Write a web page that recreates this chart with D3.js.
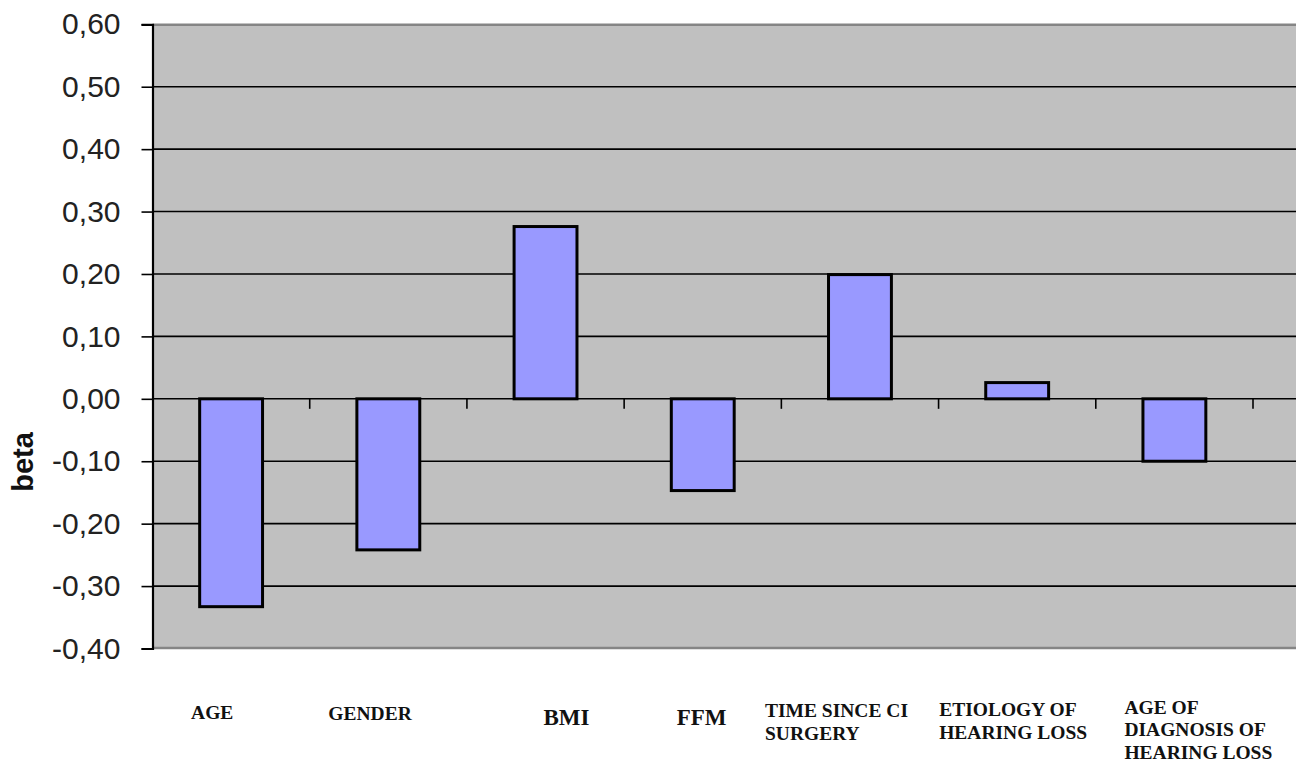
<!DOCTYPE html>
<html>
<head>
<meta charset="utf-8">
<script src="https://cdn.jsdelivr.net/npm/d3@7"></script>
<style>
  html, body { margin: 0; padding: 0; background: #ffffff; }
  svg { display: block; }
</style>
</head>
<body>
<svg id="chart" width="1296" height="763"></svg>
<script>
// Standardised regression coefficients (beta) per predictor
const categories = ["AGE", "GENDER", "BMI", "FFM", "TIME SINCE CI SURGERY",
  "ETIOLOGY OF HEARING LOSS", "AGE OF DIAGNOSIS OF HEARING LOSS"];
const betaValues = [-0.333, -0.242, 0.276, -0.147, 0.199, 0.026, -0.100];
const yTicks = [-0.40, -0.30, -0.20, -0.10, 0.00, 0.10, 0.20, 0.30, 0.40, 0.50, 0.60];
const categoryLines = [
  ["AGE"], ["GENDER"], ["BMI"], ["FFM"],
  ["TIME SINCE CI", "SURGERY"],
  ["ETIOLOGY OF", "HEARING LOSS"],
  ["AGE OF", "DIAGNOSIS OF", "HEARING LOSS"]
];

// Label placement under each band: horizontal shift from band centre, first baseline, font size
const labelLayout = [
  { dx: -40, y: 719, size: 19.5 },
  { dx: -60, y: 720, size: 19.5 },
  { dx: -2,  y: 725, size: 23 },
  { dx: -26, y: 725, size: 23 },
  { dx: -95, y: 717, size: 19.5 },
  { dx: -78, y: 716, size: 19.5 },
  { dx: -50, y: 713.5, size: 19.5 }
];
const lineStep = 22.6;

const W = 1296, H = 763;
const plot = { left: 152.5, right: 1253, top: 24.3, bottom: 648.5, edge: 1296 };

const svg = d3.select("#chart");

const x = d3.scaleBand()
  .domain(categories)
  .range([plot.left, plot.right])
  .paddingInner(0.6)
  .paddingOuter(0.3);

const y = d3.scaleLinear()
  .domain([-0.4, 0.6])
  .range([plot.bottom, plot.top]);

// Plot background
svg.append("rect")
  .attr("x", plot.left)
  .attr("y", plot.top)
  .attr("width", plot.edge - plot.left)
  .attr("height", plot.bottom - plot.top)
  .attr("fill", "#c0c0c0");

// Horizontal gridlines
svg.append("g")
  .selectAll("line")
  .data(yTicks.filter(v => v > -0.4 && v < 0.6))
  .join("line")
  .attr("x1", plot.left)
  .attr("x2", plot.edge)
  .attr("y1", d => y(d))
  .attr("y2", d => y(d))
  .attr("stroke", "#000")
  .attr("stroke-width", 1.6);

// Top and bottom frame of the plot area
svg.append("line")
  .attr("x1", plot.left).attr("x2", plot.edge)
  .attr("y1", plot.top + 0.5).attr("y2", plot.top + 0.5)
  .attr("stroke", "#858585").attr("stroke-width", 2.5);
svg.append("line")
  .attr("x1", plot.left).attr("x2", plot.edge)
  .attr("y1", plot.bottom - 0.5).attr("y2", plot.bottom - 0.5)
  .attr("stroke", "#858585").attr("stroke-width", 2.5);

// Category tick marks hanging from the zero line
const boundaries = d3.range(1, categories.length + 1)
  .map(i => plot.left + i * x.step());
svg.append("g")
  .selectAll("line")
  .data(boundaries)
  .join("line")
  .attr("x1", d => d).attr("x2", d => d)
  .attr("y1", y(0)).attr("y2", y(0) + 10)
  .attr("stroke", "#000")
  .attr("stroke-width", 1.6);

// Bars
svg.append("g")
  .selectAll("rect")
  .data(categories.map((c, i) => ({ c, v: betaValues[i] })))
  .join("rect")
  .attr("x", d => x(d.c))
  .attr("width", x.bandwidth())
  .attr("y", d => y(Math.max(0, d.v)))
  .attr("height", d => Math.abs(y(d.v) - y(0)))
  .attr("fill", "#9999ff")
  .attr("stroke", "#000")
  .attr("stroke-width", 3);

// Y axis
const yAxis = d3.axisLeft(y)
  .tickValues(yTicks)
  .tickSize(11)
  .tickPadding(21)
  .tickFormat(d => d3.format(".2f")(d).replace(".", ",").replace("−", "-"));

const gy = svg.append("g")
  .attr("transform", `translate(${plot.left},0)`)
  .call(yAxis);
gy.select(".domain").attr("stroke", "#000").attr("stroke-width", 2.2);
gy.selectAll(".tick line").attr("stroke", "#000").attr("stroke-width", 1.6);
gy.selectAll(".tick text")
  .attr("font-family", "'Liberation Sans', Arial, sans-serif")
  .attr("font-size", 30)
  .attr("fill", "#222");

// Y axis title
svg.append("text")
  .attr("transform", "translate(33,462) rotate(-90)")
  .attr("text-anchor", "middle")
  .attr("font-family", "'Liberation Sans', Arial, sans-serif")
  .attr("font-weight", "bold")
  .attr("font-size", 29)
  .attr("fill", "#111")
  .text("beta");

// Category labels
const lab = svg.append("g")
  .selectAll("text")
  .data(categories.map((c, i) => ({ c, lines: categoryLines[i], L: labelLayout[i] })))
  .join("text")
  .attr("font-family", "'Liberation Serif', 'Times New Roman', serif")
  .attr("font-weight", "bold")
  .attr("font-size", d => d.L.size)
  .attr("fill", "#111")
  .attr("text-anchor", "start");

lab.each(function (d) {
  const t = d3.select(this);
  const x0 = x(d.c) + x.bandwidth() / 2 + d.L.dx;
  d.lines.forEach((line, k) => {
    t.append("tspan")
      .attr("x", x0)
      .attr("y", d.L.y + k * lineStep)
      .text(line);
  });
});
</script>
</body>
</html>
